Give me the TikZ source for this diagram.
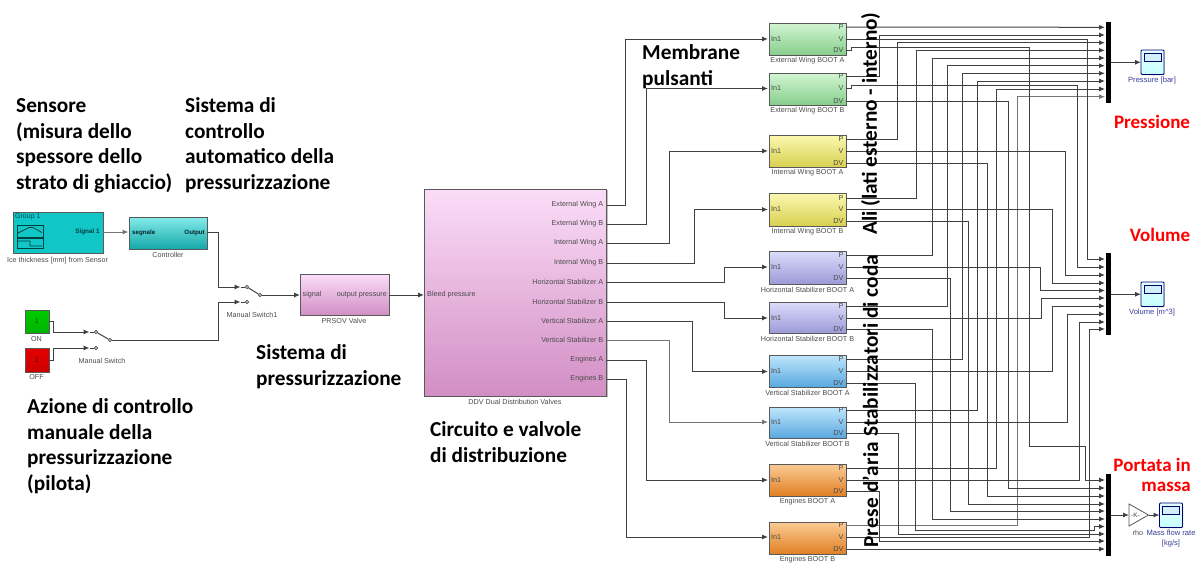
\documentclass[tikz,border=0pt]{standalone}
\usepackage{fontspec}
\setmainfont{Liberation Sans}
\newfontfamily\bigf{Carlito}[BoldFont=Carlito Bold]
\usetikzlibrary{arrows.meta,shadows}
\definecolor{wirec}{HTML}{404040}
\definecolor{lblc}{HTML}{4A4A4A}
\definecolor{scopeb}{HTML}{3A3F9A}
\definecolor{gT}{HTML}{D2F5D2}\definecolor{gB}{HTML}{86CE8C}
\definecolor{yT}{HTML}{FBF8B0}\definecolor{yB}{HTML}{D9D050}
\definecolor{pT}{HTML}{DCDCFB}\definecolor{pB}{HTML}{9C9AD8}
\definecolor{bT}{HTML}{BFE6FB}\definecolor{bB}{HTML}{5AA8E0}
\definecolor{oT}{HTML}{FBCB95}\definecolor{oB}{HTML}{E08024}
\definecolor{mT}{HTML}{FBDDF8}\definecolor{mB}{HTML}{D28EC4}
\definecolor{cT}{HTML}{86EBEB}\definecolor{cB}{HTML}{14A8A8}
\definecolor{cF}{HTML}{10C6C6}
\tikzset{
  wire/.style={draw=wirec,line width=1pt,-{Latex[length=6pt,width=5pt]},line join=miter},
  wirepale/.style={wire,draw=wirec!72},
  plainw/.style={draw=wirec,line width=1pt},
  blockbox/.style={draw=black!65,line width=0.9pt,anchor=north west,inner sep=0pt,outer sep=0pt,
     drop shadow={shadow xshift=1.2pt,shadow yshift=-1.2pt,fill=black!45,opacity=.55}},
  tinyt/.style={font=\fontsize{7.2}{8}\selectfont,text=lblc,inner sep=0pt},
  blabel/.style={font=\fontsize{7.2}{8}\selectfont,text=black!70,inner sep=0pt},
  scopelab/.style={font=\fontsize{7.6}{10}\selectfont,text=scopeb,inner sep=0pt,align=center},
  muxbar/.style={fill=black,draw=none,anchor=north west,inner sep=0pt,outer sep=0pt},
  contact/.style={circle,draw=black!75,line width=0.7pt,fill=white,inner sep=0pt,minimum size=3.4pt},
  scopebox/.style={draw=black!55!blue,line width=0.8pt,rounded corners=1pt,top color=cyan!12,bottom color=cyan!22,anchor=north west,inner sep=0pt,outer sep=0pt,
     drop shadow={shadow xshift=0.8pt,shadow yshift=-0.8pt,fill=black!30,opacity=.5}},
  bigt/.style={font=\bigf\bfseries\fontsize{21.3}{25.6}\selectfont,align=left,anchor=north west,inner sep=0pt,text=black},
  bigv/.style={font=\bigf\bfseries\fontsize{21.3}{25}\selectfont,rotate=90,inner sep=0pt,text=black},
  redt/.style={font=\bigf\bfseries\fontsize{19}{22}\selectfont,text=red,inner sep=0pt,align=right},
}
\newcommand{\blk}[7]{% name x1 y1 x2 y2 top bottom
  \node[blockbox,top color=#6,bottom color=#7,minimum width={(#4-#2)*1pt},minimum height={(#5-#3)*1pt}] (#1) at (#2,#3) {};}
\newcommand{\boot}[9]{% name y1 y2 Py Vy Dy label top bottom
  \blk{#1}{769}{#2}{846}{#3}{#8}{#9}
  \coordinate (#1-P) at (846,#4);
  \coordinate (#1-V) at (846,#5);
  \coordinate (#1-D) at (846,#6);
  \coordinate (#1-I) at (768,#5);
  \node[tinyt,anchor=east] (#1-lP) at (843.5,#4) {P};
  \node[tinyt,anchor=east] (#1-lV) at (843.5,#5) {V};
  \node[tinyt,anchor=east] (#1-lD) at (843.5,#6) {DV};
  \node[tinyt,anchor=west] (#1-lI) at (771,#5) {In1};
  \node[blabel] (#1-name) at (807.5,{#3+6}) {#7};}
\newcommand{\route}[3]{% from x to
  \coordinate (bend) at (#2,0);
  \draw[wire] (#1) -- (bend |- #1) -- (bend |- #3) -- (#3);}
\newcommand{\routepale}[3]{%
  \coordinate (bend) at (#2,0);
  \draw[wirepale] (#1) -- (bend |- #1) -- (bend |- #3) -- (#3);}
\newcommand{\scopeicon}[3]{% name x y
  \node[scopebox,minimum width=23pt,minimum height=24.5pt] (#1) at (#2,#3) {};
  \node[draw=black!60!blue,line width=0.7pt,fill=cyan!18,inner sep=0pt,minimum width=17pt,minimum height=8pt] (#1-scr) at ([yshift=-7.5pt]#1.north) {};}
\begin{document}
\begin{tikzpicture}[x=1pt,y=-1pt]
\useasboundingbox[fill=white] (0,0) rectangle (1199,563);

% ---- left side blocks
\node[blockbox,fill=cF,minimum width=90pt,minimum height=41pt] (sig) at (13,212) {};
\node[anchor=north west,inner sep=0pt,font=\fontsize{7}{8}\selectfont,text=teal!60!black] (siggrp) at (15,213.5) {Group 1};
\node[tinyt,anchor=east,text=teal!50!black,font=\bfseries\fontsize{6.4}{7}\selectfont] (sigout) at (100,232) {Signal 1};
\draw[teal!50!black,line width=0.7pt] (17,225) rectangle (43,237) (17,238) rectangle (43,248);
\draw[teal!50!black,line width=0.7pt] (18,233) -- (29,227.5) -- (33,227.5) -- (42,232.5) (18,241) -- (30,241) -- (30,246) -- (42,246);
\node[blabel] (signame) at (57.5,261) {Ice thickness [mm] from Sensor};

\blk{ctrl}{129}{217}{207}{249}{cT}{cB}
\node[tinyt,anchor=west,text=black!70!teal,font=\bfseries\fontsize{6.2}{7}\selectfont] (ctrlin) at (132,232.5) {segnale};
\node[tinyt,anchor=east,text=black!70!teal,font=\bfseries\fontsize{6.2}{7}\selectfont] (ctrlout) at (205,232.5) {Output};
\node[blabel] (ctrlname) at (168,255) {Controller};

\blk{on}{25}{310}{49}{333}{green!80!black}{green!70!black}
\node[tinyt,text=green!30!black] (onv) at (37,321) {1};
\node[blabel] (onname) at (36.5,339) {ON};
\blk{off}{25}{348}{49}{372}{red!90!black}{red!80!black}
\node[tinyt,text=red!30!black] (offv) at (37,360) {1};
\node[blabel] (offname) at (36.5,377) {OFF};

\node[contact] (swa) at (96,332) {};
\node[contact] (swb) at (96,348) {};
\node[contact] (swo) at (110,340) {};
\node[blabel] (swname) at (102,361) {Manual Switch};
\node[contact] (twa) at (247,287) {};
\node[contact] (twb) at (247,302) {};
\node[contact] (two) at (260,295) {};
\node[blabel] (twname) at (252,315) {Manual Switch1};

\blk{pr}{300}{274}{389}{315}{mT}{mB}
\node[tinyt,anchor=west] (prin) at (302.5,294.5) {signal};
\node[tinyt,anchor=east] (prout) at (387,294.5) {output pressure};
\node[blabel] (prname) at (344,321) {PRSOV Valve};

\blk{ddv}{424}{189}{606.5}{396}{mT}{mB}
\node[tinyt,anchor=west] (ddvin) at (427,294.5) {Bleed pressure};
\node[blabel] (ddvname) at (515,402) {DDV Dual Distribution Valves};
\foreach \n/\y/\t in {a/205/External Wing A,b/224/External Wing B,c/243/Internal Wing A,d/263/Internal Wing B,e/282/Horizontal Stabilizer A,f/302/Horizontal Stabilizer B,g/321/Vertical Stabilizer A,h/340/Vertical Stabilizer B,i/360/Engines A,j/379/Engines B}{
  \node[tinyt,anchor=east] (ddvl\n) at (603.5,\y) {\t};
  \coordinate (ddv\n) at (606.5,\y);
}

% ---- boots
\boot{ewa}{23}{55}{27}{39}{50}{External Wing BOOT A}{gT}{gB}
\boot{ewb}{73}{105}{76.5}{88.5}{101}{External Wing BOOT B}{gT}{gB}
\boot{iwa}{135}{167}{139}{151}{163}{Internal Wing BOOT A}{yT}{yB}
\boot{iwb}{193}{226}{198}{209.5}{221}{Internal Wing BOOT B}{yT}{yB}
\boot{hsa}{251}{284}{255}{267}{278.5}{Horizontal Stabilizer BOOT A}{pT}{pB}
\boot{hsb}{302}{333}{306}{318}{329}{Horizontal Stabilizer BOOT B}{pT}{pB}
\boot{vsa}{355}{387}{359}{371.5}{383}{Vertical Stabilizer BOOT A}{bT}{bB}
\boot{vsb}{407}{438}{410}{422}{433}{Vertical Stabilizer BOOT B}{bT}{bB}
\boot{ea}{464}{496}{468}{480}{491.5}{Engines BOOT A}{oT}{oB}
\boot{eb}{522}{554}{525.5}{537}{549}{Engines BOOT B}{oT}{oB}

% ---- muxes
\node[muxbar,minimum width=5pt,minimum height=81pt] (m1) at (1105.5,22) {};
\node[muxbar,minimum width=5pt,minimum height=82pt] (m2) at (1105.5,253) {};
\node[muxbar,minimum width=5pt,minimum height=82pt] (m3) at (1105.5,474) {};
\foreach \i/\y in {1/27.3,2/35,3/42.7,4/50.3,5/58,6/65.7,7/73.3,8/81,9/89,10/96.7}{\coordinate (m1-\i) at (1105,\y);}
\foreach \i/\y in {1/259,2/267,3/275,4/283,5/290.5,6/298,7/306,8/314,9/322,10/329}{\coordinate (m2-\i) at (1105,\y);}
\foreach \i/\y in {1/480,2/488,3/496,4/504,5/511,6/519,7/526.5,8/534,9/541,10/549}{\coordinate (m3-\i) at (1105,\y);}

% ---- scopes and gain
\scopeicon{sc1}{1141}{50}
\node[scopelab] (sc1n) at (1152,81) {Pressure [bar]};
\scopeicon{sc2}{1141}{282}
\node[scopelab] (sc2n) at (1152,313) {Volume [m\textasciicircum 3]};
\scopeicon{sc3}{1159.5}{503}
\node[scopelab] (sc3n) at (1171,539) {Mass flow rate\\{}[kg/s]};
\coordinate (gi) at (1129,515);
\coordinate (go) at (1148.5,515);
\draw[black!65,line width=0.8pt,fill=white,line join=miter] (1129,504) -- (go) -- (1129,526) -- cycle;
\node[tinyt,text=black!75,font=\fontsize{6.4}{7}\selectfont] (gk) at (1135.5,515) {-K-};
\node[blabel] (rho) at (1138,533) {rho};

% ---- wires, left part
\coordinate (sigo) at (103,232);
\coordinate (ctrli) at (128.5,232);
\draw[wirepale] (sigo) -- (ctrli);
\coordinate (ctrlo) at (207,232.5);
\coordinate (twai) at (240.5,287);
\coordinate (twbi) at (240.5,302);
\route{ctrlo}{218}{twai}
\draw[plainw] (twai) -- (twa);
\draw[plainw] (twbi) -- (twb);
\draw[plainw] (twa) -- (two);
\coordinate (onr) at (49,321);
\coordinate (offr) at (49,360);
\coordinate (swai) at (89.5,332);
\coordinate (swbi) at (89.5,348);
\route{onr}{53}{swai}
\route{offr}{53}{swbi}
\draw[plainw] (swai) -- (swa);
\draw[plainw] (swbi) -- (swb);
\draw[plainw] (swa) -- (swo);
\route{swo}{218}{twbi}
\draw[wire] (two) -- (pr.west |- two);
\draw[wire] (pr.east |- two) -- (ddv.west |- two);

% ---- wires ddv to boots
\route{ddva}{625}{ewa-I}
\route{ddvb}{646}{ewb-I}
\route{ddvc}{669}{iwa-I}
\route{ddvd}{694}{iwb-I}
\route{ddve}{724}{hsa-I}
\route{ddvf}{724}{hsb-I}
\route{ddvg}{692}{vsa-I}
\routepale{ddvh}{669}{vsb-I}
\route{ddvi}{646}{ea-I}
\route{ddvj}{626}{eb-I}

% ---- P to mux 1
\draw[wire] (ewa-P) -- (m1-1);
\route{ewb-P}{879}{m1-2}
\route{iwa-P}{897}{m1-3}
\route{iwb-P}{916}{m1-4}
\route{hsa-P}{932}{m1-5}
\route{hsb-P}{947}{m1-6}
\route{vsa-P}{962}{m1-7}
\route{vsb-P}{977}{m1-8}
\route{ea-P}{996}{m1-9}
\routepale{eb-P}{1017.5}{m1-10}

% ---- V to mux 2
\route{ewa-V}{1087}{m2-1}
\draw[wire] (ewb-V) -- (851,88.5) -- (851,85.7) -- (1077,85.7) -- (1077,267) -- (m2-2);
\route{iwa-V}{1065}{m2-3}
\route{iwb-V}{1052}{m2-4}
\route{hsa-V}{1040}{m2-5}
\route{hsb-V}{1041}{m2-6}
\route{vsa-V}{1052}{m2-7}
\route{vsb-V}{1067}{m2-8}
\route{ea-V}{1079}{m2-9}
\route{eb-V}{1089}{m2-10}

% ---- DV to mux 3
\draw[wire] (ewa-D) -- (851,50) -- (851,47.7) -- (1029,47.7) -- (1029,446.7) -- (1085,446.7) -- (1085,480) -- (m3-1);
\route{ewb-D}{1008}{m3-2}
\route{iwa-D}{987}{m3-3}
\route{iwb-D}{968}{m3-4}
\route{hsa-D}{950}{m3-5}
\route{hsb-D}{932}{m3-6}
\draw[wire] (vsa-D) -- (915,383) -- (915,530) -- (1094,530) -- (1094,526.5) -- (m3-7);
\route{vsb-D}{898}{m3-8}
\route{ea-D}{879}{m3-9}
\draw[wire] (eb-D) -- (m3-10);

% ---- outputs
\draw[wire] (m1.east |- sc1.west) -- (sc1.west);
\draw[wire] (m2.east |- sc2.west) -- (sc2.west);
\draw[wire] (m3.east |- gi) -- (gi);
\draw[wire] (go) -- (go -| sc3.west);

% ---- captions
\node[bigt] (t1) at (16,98.5) {Sensore\\(misura dello\\spessore dello\\strato di ghiaccio)};
\node[bigt] (t2) at (185,97.5) {Sistema di\\controllo\\automatico della\\pressurizzazione};
\node[bigt] (t3) at (256,344.5) {Sistema di\\pressurizzazione};
\node[bigt] (t4) at (27,398.5) {Azione di controllo\\manuale della\\pressurizzazione\\(pilota)};
\node[bigt] (t5) at (430,421.5) {Circuito e valvole\\di distribuzione};
\node[bigt] (t6) at (642,44.5) {Membrane\\pulsanti};
\node[bigv,anchor=west] (v1) at (870.5,235) {Ali (lati esterno - interno)};
\node[bigv,anchor=west] (v2) at (870.5,437) {Stabilizzatori di coda};
\node[bigv,anchor=west] (v3) at (870.5,548) {\addfontfeature{LetterSpace=1.5}Prese d’aria};
\node[redt] (r1) at (1152,122) {Pressione};
\node[redt] (r2) at (1160,235) {Volume};
\node[redt,anchor=east] (r3) at (1191,465) {Portata in};
\node[redt,anchor=east] (r4) at (1191,487) {massa};
\end{tikzpicture}
\end{document}
